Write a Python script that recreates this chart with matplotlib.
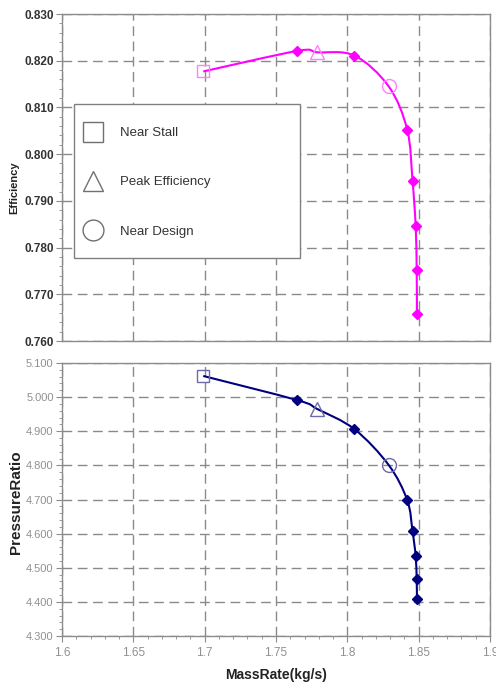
import matplotlib
matplotlib.use("Agg")
import matplotlib.pyplot as plt
from matplotlib.path import Path
from matplotlib.patches import PathPatch, Rectangle
from matplotlib.ticker import MultipleLocator, AutoMinorLocator, FormatStrFormatter
from matplotlib.lines import Line2D

plt.rcParams['font.family'] = ['Liberation Sans', 'DejaVu Sans']

# ---- data ----
mass_rate = [1.699, 1.765, 1.779, 1.805, 1.829, 1.842, 1.8457, 1.8479, 1.8486, 1.8488]
efficiency = [0.8177, 0.8221, 0.8218, 0.8211, 0.8145, 0.8052, 0.7943, 0.7846, 0.7753, 0.7657]
pressure_ratio = [5.062, 4.991, 4.965, 4.906, 4.801, 4.698, 4.607, 4.534, 4.467, 4.408]
diamond_idx = [1, 3, 5, 6, 7, 8, 9]
special_idx = [0, 2, 4]
special_labels = ["Near Stall", "Peak Efficiency", "Near Design"]
special_markers = ["s", "^", "o"]
x_ticks = [1.6, 1.65, 1.7, 1.75, 1.8, 1.85, 1.9]
x_tick_labels = ["1.6", "1.65", "1.7", "1.75", "1.8", "1.85", "1.9"]


def smooth_path(xs, ys):
    pts = list(zip(xs, ys))
    n = len(pts)
    verts = [pts[0]]
    codes = [Path.MOVETO]
    for i in range(n - 1):
        p0 = pts[i - 1] if i > 0 else pts[i]
        p1 = pts[i]
        p2 = pts[i + 1]
        p3 = pts[i + 2] if i + 2 < n else pts[i + 1]
        c1 = (p1[0] + (p2[0] - p0[0]) / 6.0, p1[1] + (p2[1] - p0[1]) / 6.0)
        c2 = (p2[0] - (p3[0] - p1[0]) / 6.0, p2[1] - (p3[1] - p1[1]) / 6.0)
        verts += [c1, c2, p2]
        codes += [Path.CURVE4] * 3
    return Path(verts, codes)


fig = plt.figure(figsize=(4.96, 6.83), dpi=100)
W, H = 496.0, 683.0
ax1 = fig.add_axes([62 / W, 1 - 341 / H, 428 / W, 327 / H])
ax2 = fig.add_axes([62 / W, 1 - 636 / H, 428 / W, 273 / H])

grid_kw = dict(color='#8a8a8a', linestyle=(0, (7, 4)), linewidth=1.0)


def style(ax):
    for s in ax.spines.values():
        s.set_color('#8c8c8c')
        s.set_linewidth(1.0)
    ax.set_xlim(1.6, 1.9)
    ax.xaxis.set_major_locator(MultipleLocator(0.05))
    ax.grid(True, **grid_kw)
    ax.set_axisbelow(True)
    ax.tick_params(axis='y', which='major', direction='out', length=4, color='#8c8c8c', pad=2)
    ax.tick_params(axis='y', which='minor', direction='out', length=2.5, color='#8c8c8c')
    ax.yaxis.set_minor_locator(AutoMinorLocator(5))


# ---- top: efficiency ----
style(ax1)
ax1.set_ylim(0.760, 0.830)
ax1.yaxis.set_major_locator(MultipleLocator(0.010))
ax1.yaxis.set_major_formatter(FormatStrFormatter('%.3f'))
ax1.tick_params(axis='x', which='both', length=0, labelbottom=False)
ax1.tick_params(axis='y', labelsize=8.5, labelcolor='#333333')
for lab in ax1.get_yticklabels():
    lab.set_fontweight('bold')
ax1.add_patch(PathPatch(smooth_path(mass_rate, efficiency), facecolor='none',
                        edgecolor='#ff00ff', linewidth=1.5, zorder=3))
ax1.plot([mass_rate[i] for i in diamond_idx], [efficiency[i] for i in diamond_idx],
         linestyle='none', marker='D', markersize=5, color='#ff00ff', zorder=4)
for i, m in zip(special_idx, special_markers):
    ax1.plot(mass_rate[i], efficiency[i], marker=m, markersize=10 if m != 's' else 9,
             markerfacecolor='none', markeredgecolor='#ff80ff', markeredgewidth=1.0,
             linestyle='none', zorder=5)
ax1.set_ylabel('Efficiency', fontsize=8, fontweight='bold', color='#222222')
ax1.yaxis.set_label_coords(-0.1, 0.47)

# legend box (fixed size as in the reference)
lx0, ly0, lx1, ly1 = 74, 104, 300, 258
ax1.add_patch(Rectangle(((lx0 - 62) / 428.0, (341 - ly1) / 327.0),
                        (lx1 - lx0) / 428.0, (ly1 - ly0) / 327.0,
                        transform=ax1.transAxes, facecolor='white', edgecolor='#808080',
                        linewidth=1.0, zorder=6))
handles = [Line2D([], [], linestyle='none', marker=m, markersize=15 if m != 's' else 14,
                  markerfacecolor='none', markeredgecolor='#707070', markeredgewidth=1.0)
           for m in special_markers]
leg = ax1.legend(handles, special_labels, loc='upper left',
                 bbox_to_anchor=((82 - 62) / 428.0, (341 - 127) / 327.0),
                 frameon=False, fontsize=9.5, labelspacing=2.8,
                 handletextpad=1.3, borderpad=0.0, borderaxespad=0.0,
                 handlelength=1.6)
leg.set_zorder(7)
for t in leg.get_texts():
    t.set_color('#333333')

# ---- bottom: pressure ratio ----
style(ax2)
ax2.set_ylim(4.3, 5.1)
ax2.yaxis.set_major_locator(MultipleLocator(0.1))
ax2.yaxis.set_major_formatter(FormatStrFormatter('%.3f'))
ax2.set_xticks(x_ticks)
ax2.set_xticklabels(x_tick_labels)
ax2.xaxis.set_minor_locator(AutoMinorLocator(5))
ax2.tick_params(axis='x', which='major', direction='out', length=4, color='#8c8c8c',
                labelsize=8.5, labelcolor='#909090', pad=4)
ax2.tick_params(axis='x', which='minor', direction='out', length=2.5, color='#8c8c8c')
ax2.tick_params(axis='y', labelsize=8, labelcolor='#909090')
ax2.add_patch(PathPatch(smooth_path(mass_rate, pressure_ratio), facecolor='none',
                        edgecolor='#000080', linewidth=1.5, zorder=3))
ax2.plot([mass_rate[i] for i in diamond_idx], [pressure_ratio[i] for i in diamond_idx],
         linestyle='none', marker='D', markersize=5, color='#000080', zorder=4)
for i, m in zip(special_idx, special_markers):
    ax2.plot(mass_rate[i], pressure_ratio[i], marker=m, markersize=10 if m != 's' else 9,
             markerfacecolor='none', markeredgecolor='#6b6ba8', markeredgewidth=1.0,
             linestyle='none', zorder=5)
ax2.set_ylabel('PressureRatio', fontsize=11, fontweight='bold', color='#222222')
ax2.yaxis.set_label_coords(-0.092, 0.49)
ax2.set_xlabel('MassRate(kg/s)', fontsize=10, fontweight='bold', color='#222222')
ax2.xaxis.set_label_coords(0.5, -0.118)

fig.savefig('out.png', dpi=100)
